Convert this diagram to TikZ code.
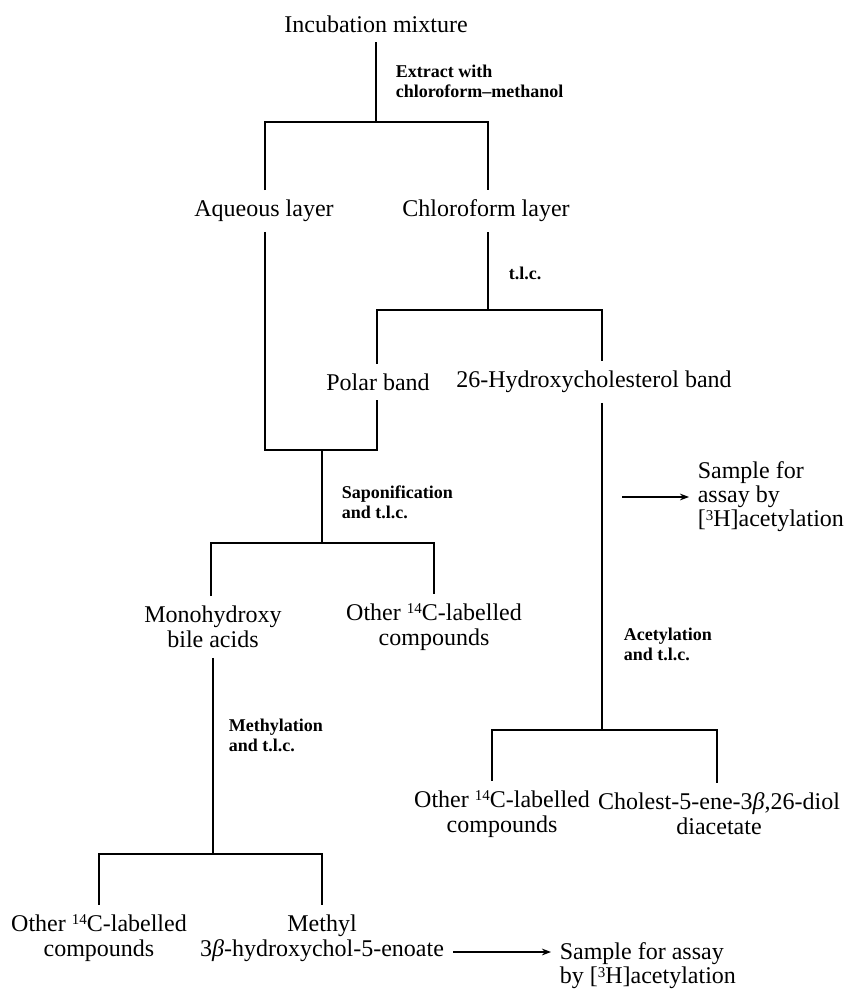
\documentclass[tikz,border=0pt]{standalone}
\usepackage{fontspec}
\setmainfont{Liberation Serif}
\usetikzlibrary{arrows.meta}

\newcommand{\isosup}[1]{\raisebox{0.6ex}{\fontsize{7.5}{7.5}\selectfont #1}}

\begin{document}
\begin{tikzpicture}[x=0.5pt,y=-0.5pt,>={Stealth[length=1.6mm]},line width=0.8pt,
  item/.style={align=center,font=\fontsize{12}{12.5}\selectfont,inner xsep=2pt,inner ysep=5pt,outer sep=0pt},
  note/.style={anchor=west,align=left,font=\fontsize{9}{10}\selectfont\bfseries,inner sep=0pt},
  sample/.style={anchor=west,align=left,font=\fontsize{12}{12}\selectfont,inner xsep=4pt,inner ysep=2pt}]
  \useasboundingbox (0,0) rectangle (844,990);
  % products and fractions
  \node[item] (inc) at (376,24) {Incubation mixture};
  \node[item] (aq) at (264,211) {Aqueous layer};
  \node[item] (chl) at (486,211) {Chloroform layer};
  \node[item] (pol) at (378,382) {Polar band};
  \node[item] (hyd) at (594,382) {26-Hydroxycholesterol band};
  \node[item] (mono) at (213,627) {Monohydroxy\\bile acids};
  \node[item] (oth1) at (434,627) {Other \isosup{14}C-labelled\\compounds};
  \node[item] (oth2) at (502,814) {Other \isosup{14}C-labelled\\compounds};
  \node[item] (chol) at (719,814) {Cholest-5-ene-3\textit{β},26-diol\\diacetate};
  \node[item] (oth3) at (99,938) {Other \isosup{14}C-labelled\\compounds};
  \node[item] (methyl) at (322,938) {Methyl\\3\textit{β}-hydroxychol-5-enoate};
  \node[sample] (samp1) at (689,497) {Sample for\\assay by\\{[}\isosup{3}H]acetylation};
  \node[sample] (samp2) at (551,966) {Sample for assay\\by {[}\isosup{3}H]acetylation};
  % steps
  \node[note] (ext) at (395,81) {Extract with\\chloroform--methanol};
  \node[note] (tlc) at (508,273) {t.l.c.};
  \node[note] (sap) at (341,502) {Saponification\\and t.l.c.};
  \node[note] (ace) at (623,644) {Acetylation\\and t.l.c.};
  \node[note] (meth) at (228,735) {Methylation\\and t.l.c.};
  % bars
  \coordinate (b1l) at (265,122);
  \coordinate (b1r) at (488,122);
  \coordinate (b2l) at (377,310);
  \coordinate (b2r) at (602,310);
  \coordinate (b3) at (322,450);
  \coordinate (b4l) at (211,543);
  \coordinate (b4r) at (434,543);
  \coordinate (b5l) at (492,730);
  \coordinate (b5r) at (717,730);
  \coordinate (b6l) at (99,854);
  \coordinate (b6r) at (322,854);
  \coordinate (a1) at (622,497);
  \coordinate (a2) at (453,952);
  \draw (inc) -- (inc |- b1l);
  \draw (b1l |- aq.north) -- (b1l) -- (b1r) -- (b1r |- chl.north);
  \draw (b1r |- chl.south) -- (b1r |- b2l);
  \draw (b2l |- pol.north) -- (b2l) -- (b2r) -- (b2r |- hyd.north);
  \draw (b1l |- aq.south) |- (b2l |- b3) -- (b2l |- pol.south);
  \draw (b3) -- (b3 |- b4l);
  \draw (b4l |- mono.north) -- (b4l) -- (b4r) -- (b4r |- oth1.north);
  \draw (b2r |- hyd.south) -- (b2r |- b5l);
  \draw (b5l |- oth2.north) -- (b5l) -- (b5r) -- (b5r |- chol.north);
  \draw (mono) -- (mono |- b6l);
  \draw (b6l |- oth3.north) -- (b6l) -- (b6r) -- (b6r |- methyl.north);
  \draw[->,line width=0.6pt] (a1) -- (a1 -| samp1.west);
  \draw[->,line width=0.6pt] (a2) -- (a2 -| samp2.west);
\end{tikzpicture}
\end{document}
